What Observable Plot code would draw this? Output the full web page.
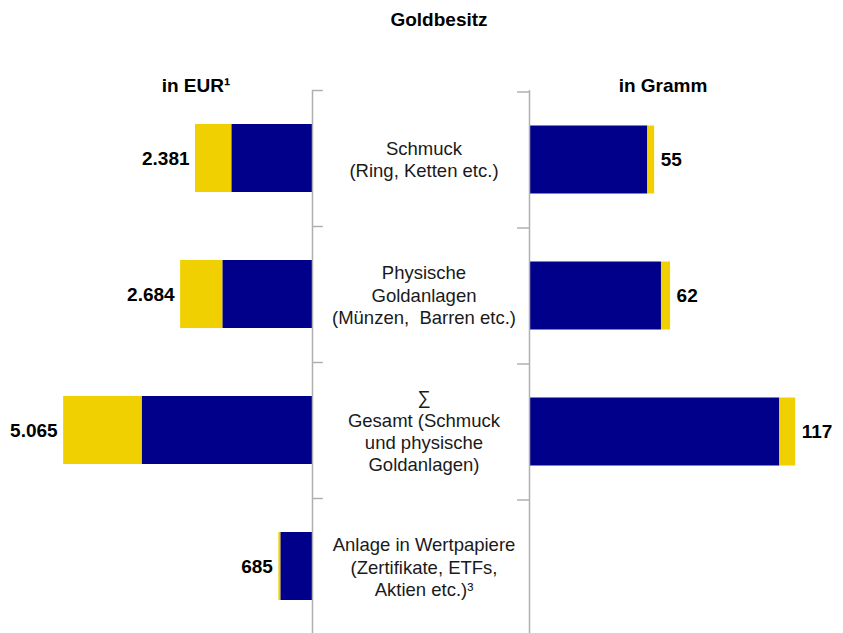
<!DOCTYPE html>
<html>
<head>
<meta charset="utf-8">
<script src="https://cdn.jsdelivr.net/npm/d3@7"></script>
<script src="https://cdn.jsdelivr.net/npm/@observablehq/plot@0.6"></script>
<style>
  html, body { margin: 0; padding: 0; background: #fff; }
  #wrap { position: relative; width: 843px; height: 633px; overflow: hidden; font-family: "Liberation Sans", Arial, sans-serif; }
  #wrap > svg { position: absolute; left: 0; top: 0; }
  .hd { position: absolute; font-weight: bold; font-size: 19px; line-height: 19px; white-space: nowrap; transform: translateX(-50%); color: #000; }
</style>
</head>
<body>
<div id="wrap">
  <div class="hd" style="left:439px; top:10px;">Goldbesitz</div>
  <div class="hd" style="left:196px; top:76px;">in EUR¹</div>
  <div class="hd" style="left:663px; top:76px;">in Gramm</div>
</div>
<script>
// ---- data ----
const categories = ["Schmuck", "Physische Goldanlagen", "Gesamt", "Anlage in Wertpapiere"];
const centerLabels = [
  "Schmuck\n(Ring, Ketten etc.)",
  "Physische\nGoldanlagen\n(Münzen,  Barren etc.)",
  "∑\nGesamt (Schmuck\nund physische\nGoldanlagen)",
  "Anlage in Wertpapiere\n(Zertifikate, ETFs,\nAktien etc.)³"
];
const seriesNames = ["Teil A", "Teil B"];
const seriesColors = ["#00008b", "#f0d000"];

const eurNavy   = [1642, 1825, 3467, 645];
const eurYellow = [739, 859, 1598, 40];
const eurTotal  = [2381, 2684, 5065, 685];

const gramNavy   = [52, 58, 110, null];
const gramYellow = [3, 4, 7, null];
const gramTotal  = [55, 62, 117, null];

// ---- build tables ----
const fmt = d3.formatLocale({decimal: ",", thousands: ".", grouping: [3], currency: ["", ""]}).format(",d");

function longTable(a, b) {
  const rows = [];
  categories.forEach((c, i) => { if (a[i] != null) rows.push({cat: c, series: seriesNames[0], value: a[i]}); });
  categories.forEach((c, i) => { if (b[i] != null) rows.push({cat: c, series: seriesNames[1], value: b[i]}); });
  return rows;
}
function totals(t) {
  return categories.map((c, i) => ({cat: c, total: t[i]})).filter(d => d.total != null);
}

const W = 843, H = 633;
const FONT = "'Liberation Sans', Arial, sans-serif";
const yBand = {domain: categories, range: [90, 634], paddingInner: 0.5, paddingOuter: 0.25, axis: null};
const colorScale = {domain: seriesNames, range: seriesColors};
const common = {width: W, height: H, margin: 0, style: {background: "transparent", fontFamily: FONT, overflow: "visible"}};

const wrap = document.getElementById("wrap");

// Left panel: EUR
const left = Plot.plot({
  ...common,
  x: {domain: [0, 6350], range: [312, 0], axis: null},
  y: yBand,
  color: colorScale,
  marks: [
    Plot.barX(longTable(eurNavy, eurYellow), Plot.stackX({x: "value", y: "cat", fill: "series"})),
    Plot.text(totals(eurTotal), {x: "total", y: "cat", text: d => fmt(d.total), textAnchor: "end", dx: -6,
      fontSize: 19, fontWeight: "bold", fill: "#000"})
  ]
});
wrap.appendChild(left);

// Right panel: grams
const right = Plot.plot({
  ...common,
  x: {domain: [0, 138], range: [529, 843], axis: null},
  y: yBand,
  color: colorScale,
  marks: [
    Plot.barX(longTable(gramNavy, gramYellow), Plot.stackX({x: "value", y: "cat", fill: "series", dy: 1.5})),
    Plot.text(totals(gramTotal), {x: "total", y: "cat", text: d => fmt(d.total), textAnchor: "start", dx: 6, dy: 1.5,
      fontSize: 19, fontWeight: "bold", fill: "#000"})
  ]
});
wrap.appendChild(right);

// Center: bracket lines and category labels
const idx = categories.map((c, i) => i);
const center = Plot.plot({
  ...common,
  x: {domain: [0, 1], range: [312, 529], axis: null},
  y: {domain: [0, categories.length], range: [90, 634], axis: null},
  marks: [
    Plot.ruleX([0, 1], {y1: 0, y2: categories.length, stroke: "#b0b0b0", strokeWidth: 1.5}),
    Plot.ruleY(idx, {x1: 0, x2: 0.05, stroke: "#b0b0b0", strokeWidth: 1.5}),
    Plot.ruleY(idx, {x1: 0.945, x2: 1, dy: 1.5, stroke: "#b0b0b0", strokeWidth: 1.5}),
    Plot.text(idx, {x: 0.5, y: i => i + 0.5, text: i => centerLabels[i], dx: 3,
      fontSize: 18.5, lineHeight: 1.2, fill: "#1a1a1a", textAnchor: "middle", lineAnchor: "middle"})
  ]
});
wrap.appendChild(center);
</script>
</body>
</html>
